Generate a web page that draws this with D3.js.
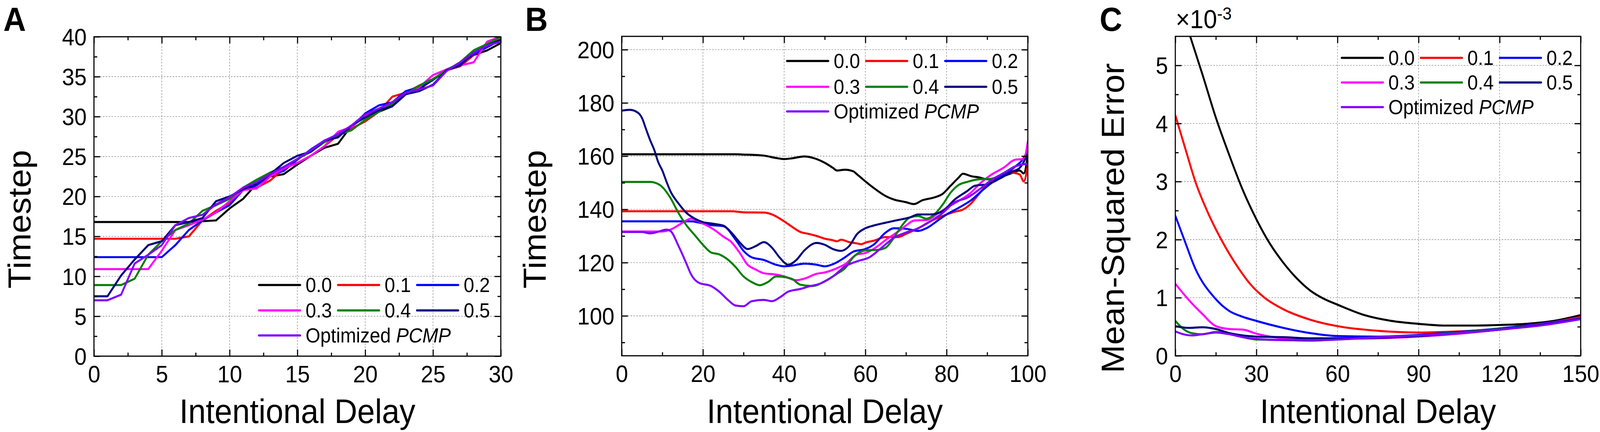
<!DOCTYPE html>
<html><head><meta charset="utf-8">
<script src="https://cdn.jsdelivr.net/npm/d3@7/dist/d3.min.js"></script>
<style>
html,body{margin:0;padding:0;background:#fff;overflow:hidden}
#chart{display:block;width:100vw;height:100vh}
text{font-family:"Liberation Sans",Arial,Helvetica,sans-serif;fill:#000}
</style>
</head><body>
<svg id="chart" viewBox="0 0 4393 1105" preserveAspectRatio="none" xmlns="http://www.w3.org/2000/svg"></svg>
<script>
// ---------------- DATA ----------------
const seriesNames = ["0.0","0.1","0.2","0.3","0.4","0.5","Optimized PCMP"];

// Panel A : timestep vs intentional delay (x = 0..30)
const xA = [0,1,2,3,4,5,6,7,8,9,10,11,12,13,14,15,16,17,18,19,20,21,22,23,24,25,26,27,28,29,30];
const a00 = [16.8,16.8,16.8,16.8,16.8,16.8,16.8,16.8,16.9,17.0,18.5,19.7,21.6,22.5,22.8,24.0,25.1,26.1,26.6,28.9,29.9,30.6,31.3,32.8,33.5,34.6,35.8,36.6,37.7,38.3,39.2];
const a01 = [14.7,14.7,14.7,14.7,14.7,14.7,14.7,15.0,17.0,18.2,19.2,20.8,21.1,22.0,23.5,24.2,25.1,26.3,27.7,28.5,29.4,30.6,32.5,33.0,33.9,34.7,35.8,36.3,37.7,38.9,39.7];
const a02 = [12.4,12.4,12.4,12.4,12.4,12.4,13.9,15.8,17.0,18.0,18.9,20.8,21.4,22.7,23.2,24.6,25.9,27.0,27.7,28.7,30.4,31.4,31.8,33.2,33.7,34.6,35.9,36.6,37.8,38.7,39.6];
const a03 = [10.9,10.9,10.9,10.9,10.9,13.2,15.8,16.4,17.1,18.0,19.4,20.8,21.0,22.5,23.5,24.2,25.1,26.3,28.1,28.7,30.1,30.8,31.4,32.8,33.7,35.2,35.9,36.4,36.8,39.4,40.0];
const a04 = [8.9,8.9,8.9,9.7,12.7,14.4,15.8,16.6,18.2,18.9,19.7,21.1,22.1,23.0,23.7,24.7,25.6,26.8,27.7,28.3,29.6,30.6,31.6,32.8,33.9,34.7,35.8,36.8,38.3,39.1,40.0];
const a05 = [7.5,7.5,10.1,12.1,13.9,14.4,16.4,16.8,17.3,19.4,20.0,20.9,21.6,22.8,24.2,25.1,25.6,27.0,27.4,28.9,29.9,30.8,31.3,32.8,33.2,34.0,35.8,36.4,38.0,38.9,39.6];
const aOpt = [7.0,7.0,7.7,11.6,12.7,13.9,16.4,17.3,17.7,19.0,19.9,21.1,21.8,22.8,23.7,24.7,25.8,27.0,27.8,28.9,30.3,31.0,31.8,33.0,33.4,33.9,35.7,36.8,38.0,38.9,39.4];

// Panel B : timestep vs intentional delay ([delay, timestep])
const b00 = [[0,160.7],[28,160.7],[30,160.6],[35,160.2],[38,159.3],[40,158.9],[42,159.2],[45,159.9],[48,158.9],[50,157.5],[52,155.6],[53,154.6],[55,154.9],[57,154.3],[58,153.1],[60,150.5],[62,148.1],[65,145.0],[67,143.7],[70,142.7],[72,142.0],[74,143.4],[77,144.5],[79,145.8],[81,148.9],[83,152.0],[84,153.4],[86,152.5],[88,152.0],[90,151.3],[92,151.7],[94,152.5],[96,153.6],[98,154.6],[99,153.5],[100,160.5]];
const b01 = [[0,139.3],[27,139.3],[30,138.9],[35,138.8],[37,138.1],[40,135.5],[42,133.4],[44,131.5],[46,130.8],[48,130.0],[50,129.0],[52,128.4],[53,128.0],[54,128.6],[56,127.7],[58,127.2],[59,126.9],[60,127.5],[62,128.2],[65,129.6],[68,129.6],[70,130.8],[73,132.9],[76,135.5],[79,137.5],[82,139.1],[84,139.9],[86,142.2],[88,145.8],[90,149.2],[92,151.0],[94,152.5],[96,153.8],[98,153.1],[99,150.5],[100,156.7]];
const b02 = [[0,135.5],[17,135.5],[20,134.7],[22,134.1],[25,133.7],[28,128.7],[30,124.4],[32,122.0],[35,121.0],[38,119.2],[40,118.6],[42,118.9],[45,119.6],[48,119.2],[50,118.6],[52,119.4],[55,122.0],[57,124.1],[60,125.1],[62,126.7],[65,131.3],[67,132.9],[70,132.7],[73,131.9],[75,132.9],[78,136.0],[80,138.1],[83,140.6],[86,143.4],[89,147.4],[92,151.0],[95,153.8],[97,156.2],[99,159.3],[100,162.4]];
const b03 = [[0,131.7],[10,131.7],[12,132.4],[15,135.0],[17,136.5],[20,134.7],[23,132.1],[25,129.8],[27,127.7],[29,123.8],[31,119.2],[33,117.4],[35,116.0],[38,115.5],[40,114.8],[43,113.4],[45,114.0],[48,115.8],[50,116.3],[53,117.9],[55,119.4],[58,123.1],[60,123.6],[62,125.1],[65,128.5],[68,131.6],[70,133.9],[72,135.8],[75,136.0],[78,138.6],[80,140.6],[83,143.2],[86,146.3],[88,149.4],[91,153.0],[94,155.6],[97,158.7],[99,158.9],[100,165.5]];
const b04 = [[0,150.3],[7,150.3],[8,150.1],[10,148.4],[12,144.3],[14,138.6],[16,133.9],[18,130.3],[20,126.7],[22,123.8],[24,123.1],[26,121.3],[28,118.4],[30,114.8],[32,112.7],[34,111.5],[36,112.7],[38,114.8],[40,114.6],[42,113.8],[44,111.7],[47,111.2],[50,113.0],[53,115.8],[55,117.9],[57,122.0],[60,124.6],[63,124.8],[65,125.6],[67,129.3],[69,133.9],[71,137.0],[73,137.5],[75,136.5],[77,138.1],[79,141.7],[81,146.3],[83,149.2],[85,150.3],[88,151.3],[91,151.5],[94,153.6],[97,156.2],[100,157.2]];
const b05 = [[0,177.1],[2,177.4],[4,176.3],[5,174.3],[6,170.1],[7,166.0],[8,162.4],[9,157.7],[10,154.6],[11,150.5],[12,146.8],[14,142.2],[16,138.6],[18,136.5],[20,135.2],[22,134.7],[25,133.9],[27,131.3],[29,127.7],[31,125.1],[33,126.2],[35,127.7],[37,125.6],[39,121.7],[41,119.2],[43,121.0],[45,124.6],[48,127.4],[50,126.7],[52,125.1],[54,124.4],[56,126.2],[58,130.8],[60,132.9],[62,133.9],[65,135.0],[68,136.0],[71,137.0],[73,138.1],[76,138.1],[79,139.3],[82,143.7],[85,146.8],[87,148.9],[90,149.4],[93,151.5],[96,154.1],[98,155.6],[100,160.8]];
const bOpt = [[0,131.5],[5,131.5],[7,131.0],[9,131.6],[11,132.4],[12,131.9],[14,126.2],[16,119.4],[17,115.8],[19,112.4],[22,111.2],[24,109.1],[26,106.2],[28,103.9],[30,103.6],[32,105.5],[35,106.0],[37,105.5],[39,107.0],[41,109.1],[44,110.1],[46,111.0],[49,112.2],[52,114.8],[55,118.6],[58,120.5],[61,122.0],[64,125.6],[67,129.3],[70,131.3],[73,132.9],[76,135.5],[79,138.6],[82,142.7],[85,144.3],[88,147.4],[91,151.0],[94,153.6],[97,156.2],[100,157.2]];

// Panel C : mean-squared error (x10^-3) vs intentional delay ([delay, mse])
const c00 = [[0,6.3],[5.5,5.5],[10,4.85],[15,4.1],[20,3.45],[25,2.85],[30,2.35],[35,1.93],[40,1.6],[45,1.33],[50,1.12],[55,0.98],[60,0.88],[70,0.7],[80,0.6],[90,0.55],[100,0.52],[110,0.52],[120,0.53],[130,0.55],[140,0.6],[150,0.7]];
const c01 = [[0,4.14],[4,3.52],[7.4,3.0],[12,2.47],[17,2.0],[23.5,1.5],[28,1.22],[33,1.0],[40,0.8],[50,0.62],[60,0.51],[75,0.43],[90,0.40],[105,0.42],[120,0.46],[135,0.54],[150,0.67]];
const c02 = [[0,2.41],[3.3,2.0],[7.4,1.5],[14.5,1.0],[20,0.77],[25,0.67],[30,0.60],[40,0.48],[50,0.39],[60,0.34],[75,0.33],[90,0.36],[105,0.41],[120,0.47],[135,0.55],[150,0.65]];
const c03 = [[0,1.24],[5,0.96],[10,0.72],[15,0.51],[20,0.46],[25,0.45],[30,0.38],[40,0.30],[50,0.28],[60,0.29],[75,0.30],[90,0.33],[105,0.38],[120,0.45],[135,0.54],[150,0.65]];
const c04 = [[0,0.60],[3,0.46],[6,0.39],[10,0.37],[15,0.41],[20,0.38],[25,0.32],[30,0.28],[40,0.27],[50,0.26],[60,0.28],[75,0.32],[90,0.35],[105,0.40],[120,0.46],[135,0.53],[150,0.64]];
const c05 = [[0,0.51],[5,0.48],[10,0.49],[15,0.46],[20,0.39],[25,0.35],[30,0.33],[40,0.32],[50,0.30],[60,0.30],[75,0.31],[90,0.34],[105,0.39],[120,0.45],[135,0.53],[150,0.64]];
const cOpt = [[0,0.42],[3,0.37],[6,0.35],[10,0.37],[15,0.40],[20,0.37],[25,0.32],[30,0.29],[40,0.27],[50,0.27],[60,0.28],[75,0.32],[90,0.35],[105,0.39],[120,0.45],[135,0.52],[150,0.63]];

// Tick values
const xTicksA = [0,5,10,15,20,25,30], xMinorA = [2.5,7.5,12.5,17.5,22.5,27.5];
const yTicksA = [0,5,10,15,20,25,30,35,40], yMinorA = [2.5,7.5,12.5,17.5,22.5,27.5,32.5,37.5];
const xTicksB = [0,20,40,60,80,100], xMinorB = [10,30,50,70,90];
const yTicksB = [100,120,140,160,180,200], yMinorB = [90,110,130,150,170,190];
const xTicksC = [0,30,60,90,120,150], xMinorC = [15,45,75,105,135];
const yTicksC = [0,1,2,3,4,5], yMinorC = [0.5,1.5,2.5,3.5,4.5];

// ---------------- STYLE / LAYOUT ----------------
const palette = ["#000000","#ff0000","#0000ff","#ff00ff","#008000","#000080","#8000ff"];
const svg = d3.select("#chart");
svg.append("rect").attr("width",4393).attr("height",1105).attr("fill","#fff");

const panels = [
  {id:"A", box:[258,1375,94,911], xd:[0,30], yd:[0,40],
   xt:xTicksA, xm:xMinorA, yt:yTicksA, ym:yMinorA,
   series:[a00,a01,a02,a03,a04,a05,aOpt].map(s => s.map((v,i)=>[xA[i],v])), curve:d3.curveLinear,
   ytitle:"Timestep", ytx:84, yty:561, letterX:9,
   legX:708, legY:[729,794,858]},
  {id:"B", box:[1707,2822,93,910], xd:[0,100], yd:[85,205],
   xt:xTicksB, xm:xMinorB, yt:yTicksB, ym:yMinorB,
   series:[b00,b01,b02,b03,b04,b05,bOpt], curve:d3.curveMonotoneX,
   ytitle:"Timestep", ytx:1498, yty:561, letterX:1442,
   legX:2158, legY:[156,222,285]},
  {id:"C", box:[3227,4340,93,910], xd:[0,150], yd:[0,5.5],
   xt:xTicksC, xm:xMinorC, yt:yTicksC, ym:yMinorC,
   series:[c00,c01,c02,c03,c04,c05,cOpt], curve:d3.curveMonotoneX,
   ytitle:"Mean-Squared Error", ytx:3086, yty:558, letterX:3019,
   legX:3681, legY:[148,211,274]}
];

const TICKFONT = 61, TITLEFONT = 87, LEGFONT = 52;

panels.forEach(p => {
  const [L,R,T,B] = p.box;
  const x = d3.scaleLinear().domain(p.xd).range([L,R]);
  const y = d3.scaleLinear().domain(p.yd).range([B,T]);
  const g = svg.append("g");

  // grid
  const grid = g.append("g").attr("stroke","#999").attr("stroke-width",1.6).attr("stroke-dasharray","4.5,3.5");
  p.xt.filter(v => x(v) > L+2 && x(v) < R-2).forEach(v =>
    grid.append("line").attr("x1",x(v)).attr("x2",x(v)).attr("y1",T).attr("y2",B));
  p.yt.filter(v => y(v) < B-2 && y(v) > T+2).forEach(v =>
    grid.append("line").attr("x1",L).attr("x2",R).attr("y1",y(v)).attr("y2",y(v)));

  // clip + series
  const clipId = "clip"+p.id;
  svg.append("clipPath").attr("id",clipId).append("rect")
     .attr("x",L).attr("y",T).attr("width",R-L).attr("height",B-T);
  const line = d3.line().x(d=>x(d[0])).y(d=>y(d[1])).curve(p.curve);
  const sg = g.append("g").attr("clip-path",`url(#${clipId})`);
  p.series.forEach((s,i) => {
    sg.append("path").attr("d",line(s)).attr("fill","none")
      .attr("stroke",palette[i]).attr("stroke-width",5.2)
      .attr("stroke-linejoin","round").attr("stroke-linecap","round");
  });

  // axes (ticks inward on all sides)
  const mk = (axis, tr, vals, size, labels) => {
    const a = g.append("g").attr("transform",tr)
      .call(axis.tickValues(vals).tickSizeInner(-size).tickSizeOuter(0)
        .tickFormat(labels ? d3.format("") : ""));
    a.select(".domain").remove();
    a.selectAll(".tick line").attr("stroke","#000").attr("stroke-width",3);
    a.selectAll("text").attr("font-size",TICKFONT).attr("fill","#000").style("font-family","'Liberation Sans',Arial,sans-serif");
    return a;
  };
  const bot = mk(d3.axisBottom(x), `translate(0,${B})`, p.xt, 17, true);
  mk(d3.axisBottom(x), `translate(0,${B})`, p.xm, 9, false);
  mk(d3.axisTop(x), `translate(0,${T})`, p.xt, 17, false);
  mk(d3.axisTop(x), `translate(0,${T})`, p.xm, 9, false);
  const lef = mk(d3.axisLeft(y), `translate(${L},0)`, p.yt, 17, true);
  mk(d3.axisLeft(y), `translate(${L},0)`, p.ym, 9, false);
  mk(d3.axisRight(y), `translate(${R},0)`, p.yt, 17, false);
  mk(d3.axisRight(y), `translate(${R},0)`, p.ym, 9, false);
  bot.selectAll("text").attr("y",24).attr("dy","0.71em");
  lef.selectAll("text").attr("x",-20).attr("dy","0.35em");

  // frame
  g.append("rect").attr("x",L).attr("y",T).attr("width",R-L).attr("height",B-T)
   .attr("fill","none").attr("stroke","#000").attr("stroke-width",3);

  // titles
  g.append("text").attr("x",(L+R)/2).attr("y",1082).attr("text-anchor","middle")
   .attr("font-size",TITLEFONT).text("Intentional Delay");
  g.append("text").attr("transform",`translate(${p.ytx},${p.yty}) rotate(-90)`)
   .attr("text-anchor","middle").attr("font-size",TITLEFONT).text(p.ytitle);
  g.append("text").attr("x",p.letterX).attr("y",79).attr("font-size",86)
   .attr("font-weight","bold").text(p.id);

  // legend
  const lg = g.append("g");
  const pos = [[0,0],[1,0],[2,0],[0,1],[1,1],[2,1],[0,2]];
  seriesNames.forEach((name,i) => {
    const cx = p.legX + pos[i][0]*217, cy = p.legY[pos[i][1]];
    lg.append("line").attr("x1",cx+3).attr("x2",cx+116).attr("y1",cy).attr("y2",cy)
      .attr("stroke",palette[i]).attr("stroke-width",5.6).attr("stroke-linecap","round");
    const t = lg.append("text").attr("x",cx+131).attr("y",cy+18).attr("font-size",LEGFONT);
    if (name.indexOf("PCMP") >= 0) {
      t.append("tspan").text("Optimized ");
      t.append("tspan").attr("font-style","italic").text("PCMP");
    } else t.text(name);
  });
});

// x10^-3 multiplier for panel C
const mult = svg.append("text").attr("x",3228).attr("y",72).attr("font-size",67);
mult.append("tspan").text("\u00d710");
mult.append("tspan").attr("font-size",45).attr("dy",-22).text("-3");
</script>
</body></html>
